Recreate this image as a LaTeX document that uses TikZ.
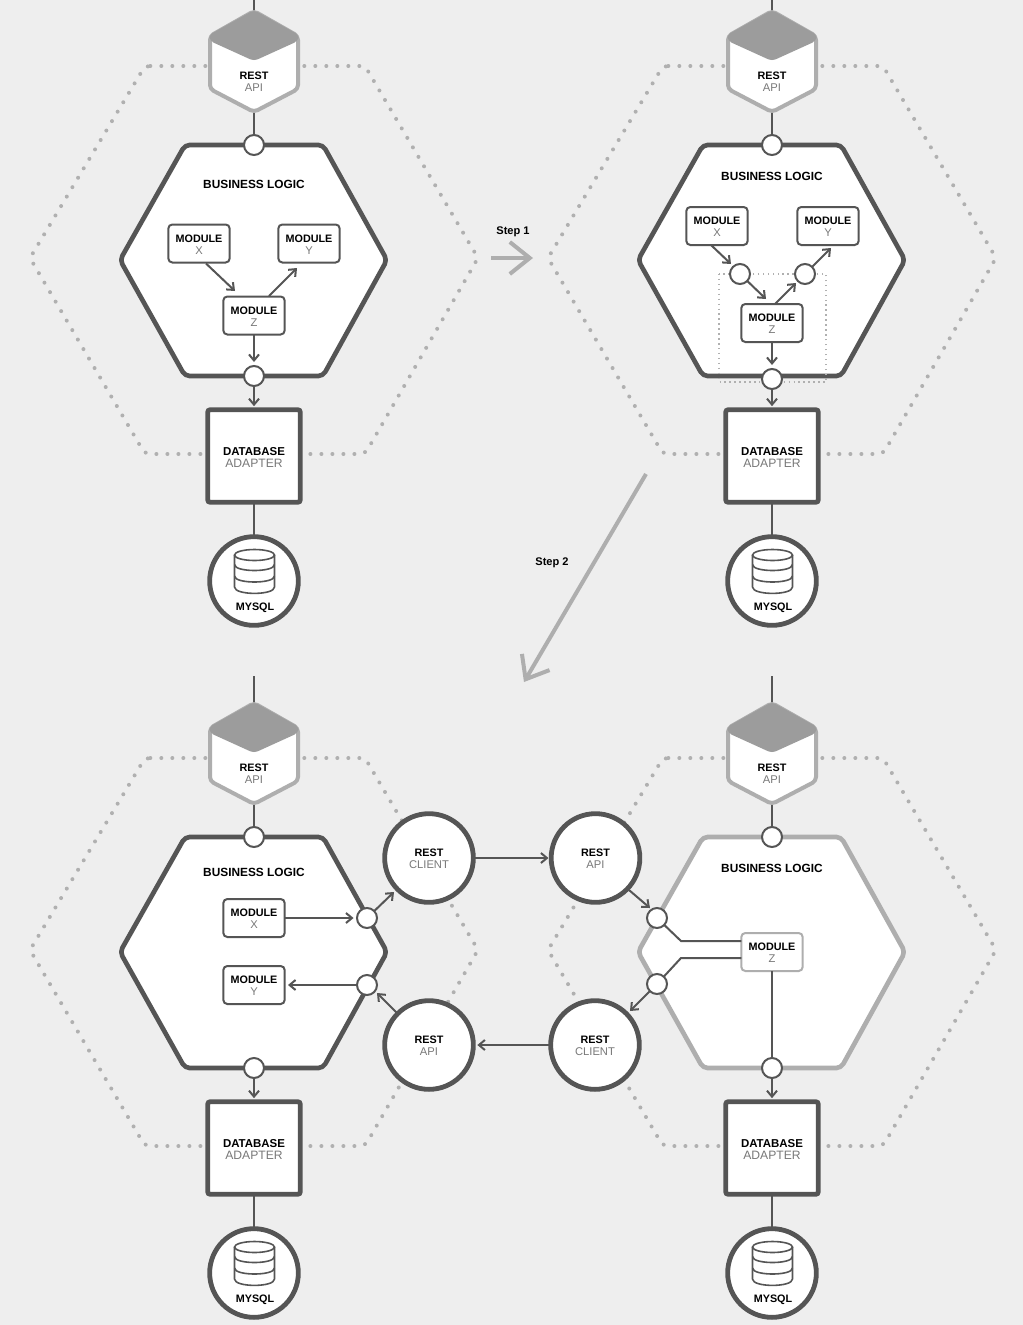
\documentclass[tikz,border=0pt]{standalone}
\usepackage{fontspec}
\setmainfont{Liberation Sans}
\usetikzlibrary{arrows.meta}
\definecolor{bgc}{HTML}{EEEEEE}
\definecolor{ink}{HTML}{555555}
\definecolor{soft}{HTML}{AEAEAE}
\definecolor{dotgray}{HTML}{B0B0B0}
\definecolor{capgray}{HTML}{9C9C9C}
\definecolor{subgray}{HTML}{787878}
\newcommand{\twolbl}[2]{\rule{0pt}{7.3pt}{\fontsize{8.1}{9}\selectfont\bfseries\color{black}#1}\\[-3pt]{\fontsize{8.4}{9}\selectfont\color{subgray}#2}}
\tikzset{
  conn/.style={draw=ink,line width=1.5pt},
  arr/.style={conn,-{Straight Barb[length=4.5pt,width=7.5pt,line width=1.5pt]}},
  bigarr/.style={draw=soft,line width=3pt,-{Straight Barb[length=15pt,width=24pt,line width=3pt]}},
  port/.style={circle,draw=ink,line width=1.5pt,fill=white,minimum size=15pt,inner sep=0pt,outer sep=0pt},
  modbox/.style={rectangle,rounded corners=3pt,draw=ink,line width=1.5pt,fill=white,minimum width=46pt,minimum height=28.5pt,inner sep=0pt,align=center,outer sep=0pt},
  modsoft/.style={modbox,draw=soft},
  dbbox/.style={rectangle,rounded corners=2pt,draw=ink,line width=3.6pt,fill=white,minimum width=69.5pt,minimum height=69.5pt,inner sep=0pt,align=center,outer sep=0pt},
  roundbox/.style={circle,draw=ink,line width=3.6pt,fill=white,minimum size=66.5pt,inner sep=0pt,align=center,outer sep=0pt},
  outerhex/.style={draw=dotgray,line width=3pt,line cap=round,dash pattern=on 0pt off 8.25pt,rounded corners=4pt},
  bizhex/.style={line width=3.5pt,fill=white,rounded corners=3.5pt,line join=round},
  txt/.style={inner sep=0pt,align=center,font=\fontsize{8.9}{10}\selectfont\bfseries},
  steptxt/.style={inner sep=0pt,font=\fontsize{8.3}{10}\selectfont\bfseries}
}
% #1 = y of the free upper end of the REST API line, #2 = colour of business hexagon
\newcommand{\panel}[2]{
  \draw[outerhex] (145,66) -- (365,66) -- (478,258) -- (365,454) -- (145,454) -- (30,258) -- cycle;
  \coordinate (linetop) at (254,#1);
  \coordinate (resttop) at (254,11);
  \coordinate (restbot) at (254,112);
  \node[port,draw=none,fill=none] (pa) at (254,145) {};
  \draw[conn] (linetop) -- (resttop);
  \draw[conn] (restbot) -- (pa);
  \filldraw[draw=soft,fill=white,line width=3pt,rounded corners=3pt,line join=round] (254,11) -- (298,36) -- (298,89) -- (254,112) -- (210,89) -- (210,36) -- cycle;
  \fill[capgray,rounded corners=3pt] (254,10) -- (299,35) -- (298,41) -- (254,61) -- (210,41) -- (209,35) -- cycle;
  \node[inner sep=0pt,align=center] (restapi) at (254,81) {\twolbl{REST}{API}};
  \draw[bizhex,draw=#2] (120,260) -- (185,145) -- (323,145) -- (387,260) -- (323,376) -- (185,376) -- cycle;
  \node[port] (pb) at (254,145) {};
  \node[dbbox] (db) at (254,456) {\rule{0pt}{7.6pt}{\fontsize{8.6}{9}\selectfont\bfseries\color{black}DATABASE}\\[-3pt]{\fontsize{9.1}{9}\selectfont\color{subgray}ADAPTER}};
  \node[roundbox] (mysql) at (254,581) {};
  \draw[conn] (db) -- (mysql);
  \draw[ink,line width=1.2pt,fill=white] (234.5,555) -- (234.5,587) .. controls (234.5,595.5) and (274.5,595.5) .. (274.5,587) -- (274.5,555);
  \draw[ink,line width=1.2pt] (254.5,555) ellipse [x radius=20,y radius=5.5];
  \draw[ink,line width=1.2pt] (234.5,564.5) .. controls (234.5,572.5) and (274.5,572.5) .. (274.5,564.5);
  \draw[ink,line width=1.2pt] (234.5,576) .. controls (234.5,584) and (274.5,584) .. (274.5,576);
  \node[inner sep=0pt,font=\fontsize{8.1}{9}\selectfont\bfseries] (mysqlt) at (255,607.5) {MYSQL};
}
\begin{document}
\begin{tikzpicture}[x=0.75pt,y=-0.75pt]
\useasboundingbox[fill=bgc] (0,0) rectangle (1023,1325);

% ---------- Panel A
\begin{scope}[name prefix=a-]
  \panel{0}{ink}
  \node[txt] (biz) at (254,184) {BUSINESS LOGIC};
  \node[modbox] (mx) at (199,243.5) {\twolbl{MODULE}{X}};
  \node[modbox] (my) at (309,243.5) {\twolbl{MODULE}{Y}};
  \node[modbox] (mz) at (254,315.5) {\twolbl{MODULE}{Z}};
  \node[port] (pc) at (254,376) {};
  \coordinate (xs) at (206,263.5); \coordinate (xt) at (235,291);
  \coordinate (ys) at (269,296); \coordinate (yt) at (297,268);
  \draw[arr] (xs) -- (xt);
  \draw[arr] (ys) -- (yt);
  \draw[arr,shorten >=3pt] (mz) -- (pc);
  \draw[arr,shorten >=2.6pt] (pc) -- (db);
\end{scope}

% ---------- Panel B
\begin{scope}[shift={(518,0)},name prefix=b-]
  \panel{0}{ink}
  \node[txt] (biz) at (254,176) {BUSINESS LOGIC};
  \node[modbox] (mx) at (199,226) {\twolbl{MODULE}{X}};
  \node[modbox] (my) at (310,226) {\twolbl{MODULE}{Y}};
  \draw[draw=dotgray,line width=1.1pt,dash pattern=on 1.1pt off 2.6pt] (201,274) rectangle (308,382);
  \node[modbox] (mz) at (254,323) {\twolbl{MODULE}{Z}};
  \node[port] (p1) at (222,274) {};
  \node[port] (p2) at (287,274) {};
  \node[port] (pc) at (254,379) {};
  \coordinate (xs) at (193,245); \coordinate (xt) at (213,264);
  \coordinate (zt) at (248,299); \coordinate (zs) at (257,304);
  \coordinate (yt) at (313,248); \coordinate (zy) at (278,283);
  \draw[arr] (xs) -- (xt);
  \draw[arr] (p1) -- (zt);
  \draw[arr] (zs) -- (zy);
  \draw[arr] (p2) -- (yt);
  \draw[arr,shorten >=3pt] (mz) -- (pc);
  \draw[arr,shorten >=2.6pt] (pc) -- (db);
\end{scope}

% ---------- Step arrows
\coordinate (s1a) at (491,258); \coordinate (s1b) at (533,258);
\draw[bigarr] (s1a) -- (s1b);
\node[steptxt] (s1) at (513,232) {Step 1};
\coordinate (s2a) at (646,474); \coordinate (s2b) at (524,682);
\draw[bigarr] (s2a) -- (s2b);
\node[steptxt] (s2) at (552,563) {Step 2};

% ---------- Panel C
\begin{scope}[shift={(0,692)},name prefix=c-]
  \panel{-16}{ink}
  \node[txt] (biz) at (254,180) {BUSINESS LOGIC};
  \node[modbox] (mx) at (254,226) {\twolbl{MODULE}{X}};
  \node[modbox] (my) at (254,293) {\twolbl{MODULE}{Y}};
  \node[port] (p1) at (367,226) {};
  \node[port] (p2) at (367,293) {};
  \node[port] (pc) at (254,376) {};
  \node[roundbox] (rc) at (429,166) {\twolbl{REST}{CLIENT}};
  \node[roundbox] (ra) at (429,353) {\twolbl{REST}{API}};
  \coordinate (ct) at (394,200); \coordinate (yt) at (288,293); \coordinate (at) at (377,301);
  \coordinate (as) at (397,321);
  \draw[arr,shorten >=2.6pt] (mx) -- (p1);
  \draw[arr] (p1) -- (ct);
  \draw[arr] (p2) -- (yt);
  \draw[arr] (as) -- (at);
  \draw[arr,shorten >=2.6pt] (pc) -- (db);
\end{scope}

% ---------- Panel D
\begin{scope}[shift={(518,692)},name prefix=d-]
  \panel{-16}{soft}
  \node[txt] (biz) at (254,176) {BUSINESS LOGIC};
  \node[modsoft] (mz) at (254,260) {\twolbl{MODULE}{Z}};
  \node[port] (p1) at (139,226) {};
  \node[port] (p2) at (139,292) {};
  \node[port] (pc) at (254,376) {};
  \node[roundbox] (ra) at (77.5,166) {\twolbl{REST}{API}};
  \node[roundbox] (rc) at (77,353) {\twolbl{REST}{CLIENT}};
  \coordinate (as) at (111,198); \coordinate (at) at (132,216);
  \coordinate (ct) at (112,319);
  \coordinate (b1) at (163,249); \coordinate (b2) at (163,266);
  \draw[arr] (as) -- (at);
  \draw[arr] (p2) -- (ct);
  \draw[conn] (p1) -- (b1) -- (mz.west |- b1);
  \draw[conn] (p2) -- (b2) -- (mz.west |- b2);
  \draw[conn] (mz) -- (pc);
  \draw[arr,shorten >=2.6pt] (pc) -- (db);
\end{scope}

% ---------- REST links between C and D
\draw[arr,shorten >=2pt] (c-rc) -- (d-ra);
\draw[arr,shorten >=3pt] (d-rc) -- (c-ra);
\end{tikzpicture}
\end{document}
